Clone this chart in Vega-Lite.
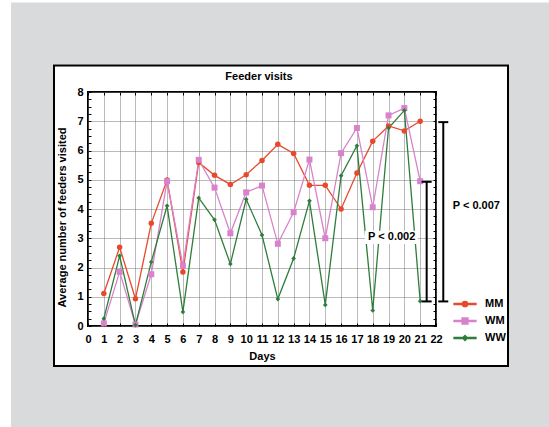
{
  "$schema": "https://vega.github.io/schema/vega-lite/v6.json",
  "width": 348,
  "height": 234,
  "autosize": {"type": "none"},
  "padding": {"left": 88, "top": 92, "right": 113, "bottom": 101},
  "background": "#ffffff",
  "config": {
    "font": "Liberation Sans",
    "view": {"stroke": "#000000", "strokeWidth": 2},
    "axis": {"labelFont": "Liberation Sans", "labelFontSize": 11, "labelFontWeight": "bold", "labelColor": "#000000", "titleFont": "Liberation Sans", "titleFontSize": 11, "titleFontWeight": "bold", "titleColor": "#000000"}
  },
  "datasets": {
    "visits": [
      {"day": 1, "group": "MM", "visits": 1.11}, {"day": 2, "group": "MM", "visits": 2.69}, {"day": 3, "group": "MM", "visits": 0.93}, {"day": 4, "group": "MM", "visits": 3.51}, {"day": 5, "group": "MM", "visits": 4.99}, {"day": 6, "group": "MM", "visits": 1.85}, {"day": 7, "group": "MM", "visits": 5.59}, {"day": 8, "group": "MM", "visits": 5.15}, {"day": 9, "group": "MM", "visits": 4.84}, {"day": 10, "group": "MM", "visits": 5.17}, {"day": 11, "group": "MM", "visits": 5.66}, {"day": 12, "group": "MM", "visits": 6.21}, {"day": 13, "group": "MM", "visits": 5.9}, {"day": 14, "group": "MM", "visits": 4.81}, {"day": 15, "group": "MM", "visits": 4.81}, {"day": 16, "group": "MM", "visits": 4.0}, {"day": 17, "group": "MM", "visits": 5.23}, {"day": 18, "group": "MM", "visits": 6.32}, {"day": 19, "group": "MM", "visits": 6.84}, {"day": 20, "group": "MM", "visits": 6.67}, {"day": 21, "group": "MM", "visits": 7.0},
      {"day": 1, "group": "WM", "visits": 0.09}, {"day": 2, "group": "WM", "visits": 1.85}, {"day": 3, "group": "WM", "visits": 0.05}, {"day": 4, "group": "WM", "visits": 1.77}, {"day": 5, "group": "WM", "visits": 4.95}, {"day": 6, "group": "WM", "visits": 2.06}, {"day": 7, "group": "WM", "visits": 5.68}, {"day": 8, "group": "WM", "visits": 4.73}, {"day": 9, "group": "WM", "visits": 3.17}, {"day": 10, "group": "WM", "visits": 4.57}, {"day": 11, "group": "WM", "visits": 4.8}, {"day": 12, "group": "WM", "visits": 2.81}, {"day": 13, "group": "WM", "visits": 3.89}, {"day": 14, "group": "WM", "visits": 5.69}, {"day": 15, "group": "WM", "visits": 3.0}, {"day": 16, "group": "WM", "visits": 5.91}, {"day": 17, "group": "WM", "visits": 6.77}, {"day": 18, "group": "WM", "visits": 4.06}, {"day": 19, "group": "WM", "visits": 7.2}, {"day": 20, "group": "WM", "visits": 7.45}, {"day": 21, "group": "WM", "visits": 4.95},
      {"day": 1, "group": "WW", "visits": 0.25}, {"day": 2, "group": "WW", "visits": 2.4}, {"day": 3, "group": "WW", "visits": 0.03}, {"day": 4, "group": "WW", "visits": 2.19}, {"day": 5, "group": "WW", "visits": 4.11}, {"day": 6, "group": "WW", "visits": 0.48}, {"day": 7, "group": "WW", "visits": 4.38}, {"day": 8, "group": "WW", "visits": 3.63}, {"day": 9, "group": "WW", "visits": 2.12}, {"day": 10, "group": "WW", "visits": 4.33}, {"day": 11, "group": "WW", "visits": 3.11}, {"day": 12, "group": "WW", "visits": 0.92}, {"day": 13, "group": "WW", "visits": 2.31}, {"day": 14, "group": "WW", "visits": 4.28}, {"day": 15, "group": "WW", "visits": 0.72}, {"day": 16, "group": "WW", "visits": 5.14}, {"day": 17, "group": "WW", "visits": 6.16}, {"day": 18, "group": "WW", "visits": 0.53}, {"day": 19, "group": "WW", "visits": 6.77}, {"day": 20, "group": "WW", "visits": 7.37}, {"day": 21, "group": "WW", "visits": 0.85}
    ],
    "stats": [
      {"test": "P < 0.007", "at": 22.46, "lo": 0.84, "hi": 6.97},
      {"test": "P < 0.002", "at": 21.41, "lo": 0.84, "hi": 4.93}
    ]
  },
  "resolve": {"axis": {"x": "independent", "y": "independent"}},
  "layer": [
    {
      "data": {"values": [{}]},
      "mark": {"type": "rect", "filled": false, "stroke": "#d9dadc", "strokeWidth": 62, "strokeJoin": "miter"},
      "encoding": {
        "x": {"datum": -4.172, "type": "quantitative", "scale": {"domain": [0, 22], "nice": false, "zero": false}, "axis": null},
        "x2": {"datum": 28.575},
        "y": {"datum": -2.462, "type": "quantitative", "scale": {"domain": [0, 8], "nice": false, "zero": false}, "axis": null},
        "y2": {"datum": 10.0}
      }
    },
    {
      "data": {"values": [{}]},
      "mark": {"type": "rect", "fill": "#ffffff"},
      "encoding": {
        "x": {"datum": -7.0, "type": "quantitative", "axis": null},
        "x2": {"datum": -4.87},
        "y": {"datum": -6, "type": "quantitative", "axis": null},
        "y2": {"datum": 14}
      }
    },
    {
      "data": {"values": [{}]},
      "mark": {"type": "rect", "filled": false, "stroke": "#000000", "strokeWidth": 2},
      "encoding": {
        "x": {"datum": -2.149, "type": "quantitative", "axis": null},
        "x2": {"datum": 26.552},
        "y": {"datum": -1.368, "type": "quantitative", "axis": null},
        "y2": {"datum": 8.906}
      }
    },
    {
      "data": {"values": [{"title": "Feeder visits"}]},
      "mark": {"type": "text", "font": "Liberation Sans", "fontSize": 11, "fontWeight": "bold", "color": "#000000", "align": "center", "baseline": "alphabetic"},
      "encoding": {
        "x": {"datum": 10.81, "type": "quantitative", "axis": null},
        "y": {"datum": 8.41, "type": "quantitative", "axis": null},
        "text": {"field": "title"}
      }
    },
    {
      "data": {"name": "visits"},
      "mark": {"type": "line", "strokeWidth": 1.3},
      "encoding": {
        "x": {"field": "day", "type": "quantitative", "axis": {"orient": "bottom", "values": [0,1,2,3,4,5,6,7,8,9,10,11,12,13,14,15,16,17,18,19,20,21,22], "title": "Days", "labelPadding": 7, "titlePadding": 6, "labelFlush": false, "labelOverlap": false, "labelBound": false, "ticks": false, "domain": false, "grid": true, "gridColor": "#777777", "gridDash": [1, 1], "gridWidth": 1}},
        "y": {"field": "visits", "type": "quantitative", "axis": {"orient": "left", "values": [0,1,2,3,4,5,6,7,8], "title": "Average number of feeders visited", "labelPadding": 5, "labelFlush": false, "labelOverlap": false, "ticks": false, "domain": false, "grid": true, "gridColor": "#777777", "gridDash": [1, 1], "gridWidth": 1, "titleX": -25.3, "titleY": 125, "titleBaseline": "middle", "titleAngle": -90}},
        "color": {"field": "group", "type": "nominal", "scale": {"domain": ["MM", "WM", "WW"], "range": ["#e8492c", "#d982cb", "#2e7d3c"]}, "legend": {
          "orient": "none", "legendX": 370, "legendY": 205, "title": null, "padding": 0,
          "symbolType": "stroke", "symbolSize": 144, "symbolStrokeWidth": 1.3, "labelOffset": 13, "rowPadding": 4,
          "labelFont": "Liberation Sans", "labelFontSize": 11, "labelFontWeight": "bold", "labelColor": "#000000", "symbolOpacity": 1,
          "encode": {"symbols": {"update": {
            "shape": {"signal": "datum.value === 'MM' ? 'M-1.833,-0.11H1.833V0.11H-1.833ZM0.45,0A0.45,0.45,0,1,1,-0.45,0A0.45,0.45,0,1,1,0.45,0Z' : datum.value === 'WM' ? 'M-1.833,-0.11H1.833V0.11H-1.833ZM-0.5,-0.5H0.5V0.5H-0.5Z' : 'M-1.833,-0.11H1.833V0.11H-1.833ZM0,-0.42L0.42,0L0,0.42L-0.42,0Z'"},
            "fill": {"signal": "scale('color', datum.value)"},
            "stroke": {"signal": "scale('color', datum.value)"}
          }}}
        }}
      }
    },
    {
      "data": {"name": "visits"},
      "transform": [{"filter": "datum.group === 'MM'"}],
      "mark": {"type": "point", "shape": "circle", "size": 30, "filled": true, "opacity": 1},
      "encoding": {
        "x": {"field": "day", "type": "quantitative", "axis": {"orient": "top", "values": [0,1,2,3,4,5,6,7,8,9,10,11,12,13,14,15,16,17,18,19,20,21,22], "title": null, "labels": false, "domain": false, "grid": false, "ticks": true, "tickSize": -3, "tickColor": "#000000", "tickWidth": 1}},
        "y": {"field": "visits", "type": "quantitative", "axis": {"orient": "left", "values": [0,0.25,0.5,0.75,1,1.25,1.5,1.75,2,2.25,2.5,2.75,3,3.25,3.5,3.75,4,4.25,4.5,4.75,5,5.25,5.5,5.75,6,6.25,6.5,6.75,7,7.25,7.5,7.75,8], "title": null, "labels": false, "domain": false, "grid": false, "ticks": true, "tickSize": -3, "tickColor": "#000000", "tickWidth": 1}},
        "color": {"field": "group", "type": "nominal", "legend": null}
      }
    },
    {
      "data": {"name": "visits"},
      "transform": [{"filter": "datum.group === 'WM'"}],
      "mark": {"type": "point", "shape": "square", "size": 36, "filled": true, "opacity": 1},
      "encoding": {
        "x": {"field": "day", "type": "quantitative", "axis": null},
        "y": {"field": "visits", "type": "quantitative", "axis": null},
        "color": {"field": "group", "type": "nominal", "legend": null}
      }
    },
    {
      "data": {"name": "visits"},
      "transform": [{"filter": "datum.group === 'WW'"}],
      "mark": {"type": "point", "shape": "diamond", "size": 22, "filled": true, "opacity": 1},
      "encoding": {
        "x": {"field": "day", "type": "quantitative", "axis": null},
        "y": {"field": "visits", "type": "quantitative", "axis": null},
        "color": {"field": "group", "type": "nominal", "legend": null}
      }
    },
    {
      "data": {"name": "stats"},
      "mark": {"type": "rule", "strokeWidth": 2, "color": "#000000"},
      "encoding": {
        "x": {"field": "at", "type": "quantitative", "axis": {"orient": "bottom", "values": [0,1,2,3,4,5,6,7,8,9,10,11,12,13,14,15,16,17,18,19,20,21,22], "title": null, "labels": false, "domain": false, "grid": false, "ticks": true, "tickSize": -3, "tickColor": "#000000", "tickWidth": 1}},
        "y": {"field": "lo", "type": "quantitative", "axis": {"orient": "right", "values": [0,0.25,0.5,0.75,1,1.25,1.5,1.75,2,2.25,2.5,2.75,3,3.25,3.5,3.75,4,4.25,4.5,4.75,5,5.25,5.5,5.75,6,6.25,6.5,6.75,7,7.25,7.5,7.75,8], "title": null, "labels": false, "domain": false, "grid": false, "ticks": true, "tickSize": -3, "tickColor": "#000000", "tickWidth": 1}},
        "y2": {"field": "hi"}
      }
    },
    {
      "data": {"name": "stats"},
      "mark": {"type": "tick", "orient": "horizontal", "size": 10, "thickness": 2, "color": "#000000", "opacity": 1},
      "encoding": {
        "x": {"field": "at", "type": "quantitative", "axis": null},
        "y": {"field": "lo", "type": "quantitative", "axis": null}
      }
    },
    {
      "data": {"name": "stats"},
      "mark": {"type": "tick", "orient": "horizontal", "size": 10, "thickness": 2, "color": "#000000", "opacity": 1},
      "encoding": {
        "x": {"field": "at", "type": "quantitative", "axis": null},
        "y": {"field": "hi", "type": "quantitative", "axis": null}
      }
    },
    {
      "data": {"values": [{}]},
      "mark": {"type": "rect", "fill": "#ffffff"},
      "encoding": {
        "x": {"datum": 17.5, "type": "quantitative", "axis": null},
        "x2": {"datum": 20.85},
        "y": {"datum": 2.8, "type": "quantitative", "axis": null},
        "y2": {"datum": 3.26}
      }
    },
    {
      "data": {"name": "stats"},
      "transform": [{"filter": "datum.test === 'P < 0.002'"}],
      "mark": {"type": "text", "font": "Liberation Sans", "fontSize": 11, "fontWeight": "bold", "color": "#000000", "align": "center", "baseline": "middle"},
      "encoding": {
        "x": {"datum": 19.2, "type": "quantitative", "axis": null},
        "y": {"datum": 3.03, "type": "quantitative", "axis": null},
        "text": {"field": "test"}
      }
    },
    {
      "data": {"name": "stats"},
      "transform": [{"filter": "datum.test === 'P < 0.007'"}],
      "mark": {"type": "text", "font": "Liberation Sans", "fontSize": 11, "fontWeight": "bold", "color": "#000000", "align": "center", "baseline": "middle"},
      "encoding": {
        "x": {"datum": 24.55, "type": "quantitative", "axis": null},
        "y": {"datum": 4.09, "type": "quantitative", "axis": null},
        "text": {"field": "test"}
      }
    }
  ]
}
